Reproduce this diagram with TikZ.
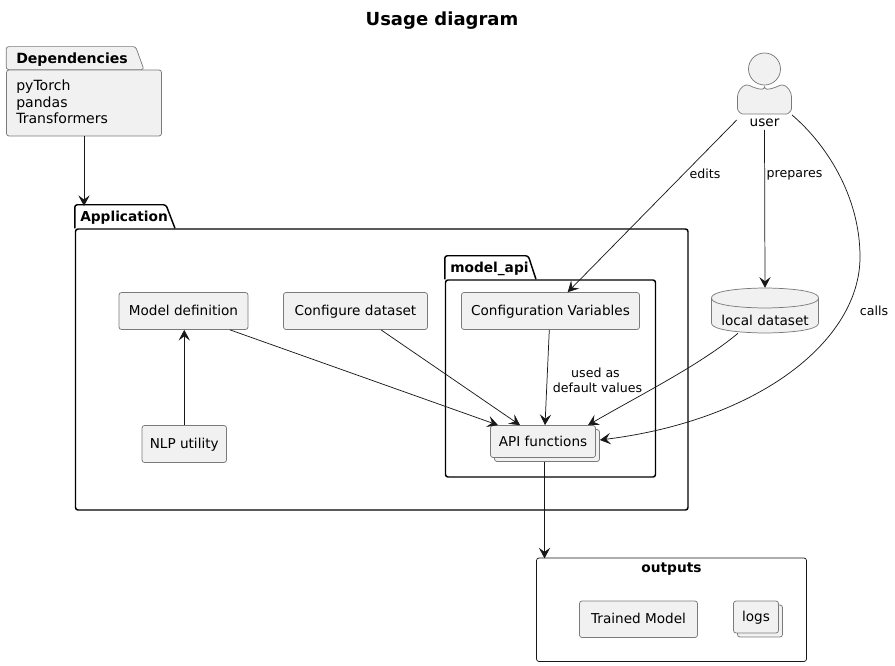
\documentclass[tikz,border=0pt]{standalone}
\usepackage{fontspec}
\setmainfont{DejaVu Sans}
\usetikzlibrary{arrows.meta,calc,shadows}
\definecolor{boxfill}{HTML}{F1F1F1}
\definecolor{boxline}{HTML}{181818}
\definecolor{boxedge}{HTML}{7A7A7A}
\tikzset{
    pxsize/.style 2 args={minimum width=#1*0.75pt, minimum height=#2*0.75pt},
    txt/.style={inner sep=0pt, font=\fontsize{10.2}{12.4}\selectfont, text=black},
    lbl/.style={inner sep=0pt, font=\fontsize{9.45}{11}\selectfont, text=black},
    boldtxt/.style={inner sep=0pt, font=\fontsize{10.3}{12.4}\selectfont\bfseries, text=black},
    box/.style={txt, draw=boxedge, line width=0.55pt, fill=boxfill, rounded corners=1.9pt, text height=9.5pt, text depth=2.4pt},
    stack/.style={box, copy shadow={shadow xshift=3pt, shadow yshift=-3pt}},
    pkg/.style={draw=black, line width=1.1pt, rounded corners=1.9pt},
    arr/.style={-{Stealth[length=8pt, width=8.5pt, inset=3.2pt]}, draw=boxline, line width=0.55pt},
}
\begin{document}
\begin{tikzpicture}[x=0.75pt, y=-0.75pt]
    \useasboundingbox (0,0) rectangle (895,666);
    \node[inner sep=0pt, font=\fontsize{13.5}{16}\selectfont\bfseries] (title) at (442,21) {Usage diagram};

    % dependencies
    \node[box, pxsize={155}{66}] (dep) at (84,103) {};
    \draw[box] (dep.north west) -- ++(0,-23) -- ++(129.5,0) -- ++(8.3,23) -- cycle;
    \node[boldtxt, anchor=west, font=\fontsize{10.55}{12.4}\selectfont\bfseries] (deptitle) at (16,60) {Dependencies};
    \node[txt, anchor=west, align=left, font=\fontsize{10.55}{12.4}\selectfont] (deplist) at (16,102) {pyTorch\\pandas\\Transformers};

    % application
    \node[pkg, pxsize={612.5}{281}] (app) at (381.75,369.5) {};
    \draw[pkg] (app.north west) -- ++(0,-23.5) -- ++(91.2,0) -- ++(9,23.5);
    \node[boldtxt, anchor=west] (apptitle) at (80,218) {Application};
    \node[pkg, pxsize={210}{197}] (mapi) at (550.5,378.5) {};
    \draw[pkg] (mapi.north west) -- ++(0,-23.5) -- ++(83.5,0) -- ++(7.7,23.5);
    \node[boldtxt, anchor=west] (mapititle) at (450,269) {model\_api};

    \node[box, pxsize={129}{37}] (model) at (183.5,311) {Model definition};
    \node[box, pxsize={144}{37}] (conf) at (355.5,311) {Configure dataset};
    \node[box, pxsize={178}{37}] (vars) at (550.5,311) {Configuration Variables};
    \node[box, pxsize={84.5}{37}] (nlp) at (184.25,444) {NLP utility};
    \node[stack, pxsize={105}{32}] (api) at (543,441.5) {API functions};

    % outputs
    \node[draw=boxline, line width=0.55pt, rounded corners=1.9pt, pxsize={270}{103.5}] (out) at (671.5,609.75) {};
    \node[boldtxt] (outtitle) at (671.5,569.5) {outputs};
    \node[box, pxsize={118}{36.5}] (model2) at (638.5,619.25) {Trained Model};
    \node[stack, pxsize={45}{32}] (logs) at (756,617) {logs};

    % user
    \node[box, circle, pxsize={32}{32}] (usrhead) at (764.5,69) {};
    \draw[box] (764.5,89.2) .. controls (758,89.2) and (752.5,87) .. (749,85)
        .. controls (742,85) and (737.5,92) .. (737.5,99) -- (737.5,106)
        .. controls (737.5,111) and (741,114) .. (745,114) -- (784,114)
        .. controls (788,114) and (791.5,111) .. (791.5,106) -- (791.5,99)
        .. controls (791.5,92) and (787,85) .. (780,85)
        .. controls (776.5,87) and (771,89.2) .. (764.5,89.2) -- cycle;
    \node[txt] (usr) at (764.5,123) {user};

    % dataset
    \node[inner sep=0pt, pxsize={107}{45}] (dset) at (765,310.5) {};
    \draw[box, rounded corners=0pt] (711.5,298) .. controls (711.5,288) and (765,288) .. (765,288)
        .. controls (765,288) and (818.5,288) .. (818.5,298) -- (818.5,323)
        .. controls (818.5,333) and (765,333) .. (765,333)
        .. controls (765,333) and (711.5,333) .. (711.5,323) -- cycle;
    \draw[box, fill=none, rounded corners=0pt] (711.5,298) .. controls (711.5,308) and (765,308) .. (765,308)
        .. controls (765,308) and (818.5,308) .. (818.5,298);
    \node[txt] (dsettxt) at (765,320) {local dataset};

    % connections
    \draw[arr] (dep.south) -- (dep.south |- 0,206);
    \draw[arr] (nlp.north) -- (nlp.north |- model.south);
    \draw[arr] ($(model.south)+(46.5,0)$) -- ($(api.north)+(-45,0)$);
    \draw[arr] ($(conf.south)+(25.5,0)$) -- ($(api.north)+(-23,0)$);
    \draw[arr] ($(vars.south)+(-1.2,0)$) -- ($(api.north)+(2,0)$);
    \draw[arr] ($(usr.center)+(-27.8,-3)$) -- ($(vars.north)+(17.2,0)$);
    \draw[arr] (usr.center |- 0,130) -- (dset.north);
    \draw[arr] ($(dset.south)+(-27,0)$) .. controls (700,365) and (640,395) .. ($(api.north)+(45,0)$);
    \draw[arr] ($(usr.center)+(27.5,-8)$) .. controls (825,143) and (860,195) .. (860,257)
        .. controls (860,340) and (760,420) .. ($(api.east)+(4,-1.5)$);
    \draw[arr] ($(api.south)+(1.5,4)$) -- ($(api.south)+(1.5,100.5)$);

    % labels
    \node[lbl] (edits) at (705,174) {edits};
    \node[lbl] (prep) at (794.5,175.5) {prepares};
    \node[lbl] (calls) at (874,311) {calls};
    \node[lbl, align=center] (used) at (597.5,380) {used as~~\\default values};
\end{tikzpicture}
\end{document}
